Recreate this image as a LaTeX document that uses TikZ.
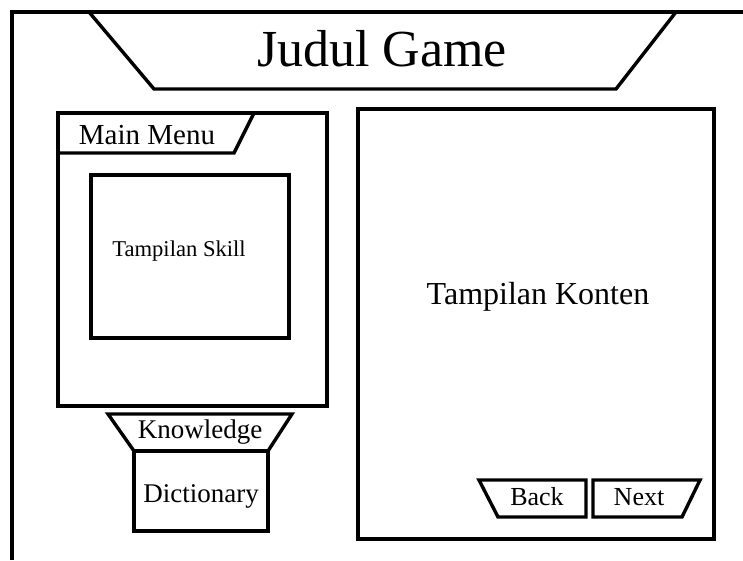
\documentclass[tikz,border=0pt]{standalone}
\usepackage{fontspec}
\setmainfont{Liberation Serif}
\begin{document}
\begin{tikzpicture}[x=1pt,y=-1pt,
  frame/.style={line width=3.4pt, line join=miter},
  lbl/.style={inner sep=0pt, anchor=base},
  fsize/.style={font=\fontsize{#1}{#1}\selectfont}]
\useasboundingbox (0,0) rectangle (743,560);
% outer frame
\draw[frame] (12,560) -- (12,12) -- (743,12);
% title
\draw[frame] (89,12) -- (154,89) -- (616,89) -- (676,12);
\node[lbl, fsize=52] (title) at (382,66) {Judul Game};
% main menu panel
\draw[frame] (58,113) rectangle (327,406);
\draw[frame] (58,153) -- (234,153) -- (254,113);
\node[lbl, fsize=29] (mainmenu) at (147,144) {Main Menu};
\draw[frame] (91,175) rectangle (289,338);
\node[lbl, fsize=22.6] (skill) at (179,256) {Tampilan Skill};
% knowledge / dictionary
\draw[frame] (108,414) -- (292,414) -- (268,451) -- (134,451) -- cycle;
\node[lbl, fsize=27] (knowledge) at (200,438) {Knowledge};
\draw[frame] (134,451) rectangle (268,531);
\node[lbl, fsize=27] (dictionary) at (201,502) {Dictionary};
% content panel
\draw[frame] (358,109) rectangle (714,539);
\node[lbl, fsize=32] (konten) at (538,304) {Tampilan Konten};
% buttons
\draw[frame] (479,480) -- (586,480) -- (586,517) -- (498,517) -- cycle;
\node[lbl, fsize=26] (back) at (537,505) {Back};
\draw[frame] (593,480) -- (700,480) -- (682,517) -- (593,517) -- cycle;
\node[lbl, fsize=26] (next) at (639,505) {Next};
\end{tikzpicture}
\end{document}
